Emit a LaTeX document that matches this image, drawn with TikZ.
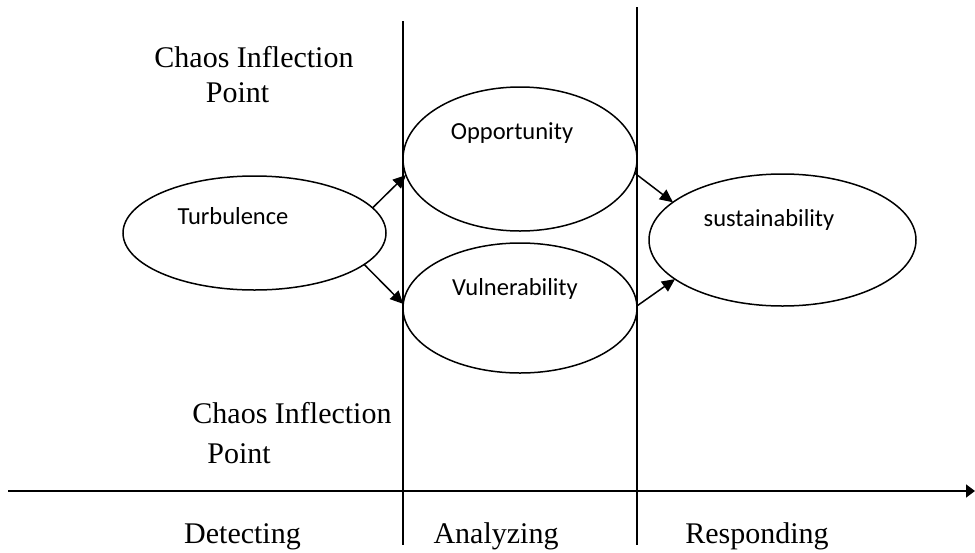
\documentclass[tikz,border=0pt]{standalone}
\usepackage{fontspec}
\setmainfont{Liberation Serif}
\newfontfamily\labelsans{Carlito}
\usetikzlibrary{shapes.geometric,arrows.meta}
\begin{document}
\begin{tikzpicture}[x=1pt,y=-1pt,
  phase/.style={ellipse,draw,line width=1.5pt,inner sep=0pt,outer sep=0pt},
  sanstext/.style={anchor=base,inner sep=0pt,font=\labelsans\fontsize{24.5}{29}\selectfont},
  seriftext/.style={anchor=base,inner sep=0pt,font=\fontsize{30}{36}\selectfont},
  rule/.style={line width=1.5pt},
  flow/.style={line width=1.5pt,-{Triangle[length=13pt,width=12pt]}}]
\useasboundingbox (0,0) rectangle (975,552);

% phase boundaries and time axis
\coordinate (v1top) at (403,21);
\coordinate (v1bot) at (403,545);
\coordinate (v2top) at (637,7);
\coordinate (v2bot) at (637,545);
\coordinate (axstart) at (8,491);
\coordinate (axend) at (975,491);
\draw[rule] (v1top) -- (v1bot);
\draw[rule] (v2top) -- (v2bot);
\draw[line width=1.6pt,-{Triangle[length=9pt,width=13pt]}] (axstart) -- (axend);

% ellipses
\node[phase,minimum width=263pt,minimum height=114pt] (turb) at (254.5,233) {};
\node[phase,minimum width=234pt,minimum height=144pt] (opp) at (520,159) {};
\node[phase,minimum width=234pt,minimum height=130pt] (vul) at (520,308) {};
\node[phase,minimum width=267pt,minimum height=132pt] (sus) at (782.5,240) {};

% ellipse texts
\node[sanstext] (turbtxt) at (233,224) {Turbulence};
\node[sanstext] (opptxt) at (512,139) {Opportunity};
\node[sanstext] (vultxt) at (515,295) {Vulnerability};
\node[sanstext] (sustxt) at (769,226) {sustainability};

% connectors
\draw[flow] (turb.12.9) -- (opp.188.7);
\draw[flow] (turb.-16.1) -- (vul.178);
\draw[flow] (opp.-7.8) -- (sus.161.8);
\draw[flow] (vul.1) -- (sus.200.2);

% side labels
\node[seriftext] (cip1a) at (254,67) {Chaos Inflection};
\node[seriftext] (cip1b) at (237.5,102) {Point};
\node[seriftext] (cip2a) at (292,423) {Chaos Inflection};
\node[seriftext] (cip2b) at (239,463) {Point};

% phase names
\node[seriftext] (det) at (242.5,543) {Detecting};
\node[seriftext] (ana) at (496,543) {Analyzing};
\node[seriftext] (res) at (757,543) {Responding};
\end{tikzpicture}
\end{document}
